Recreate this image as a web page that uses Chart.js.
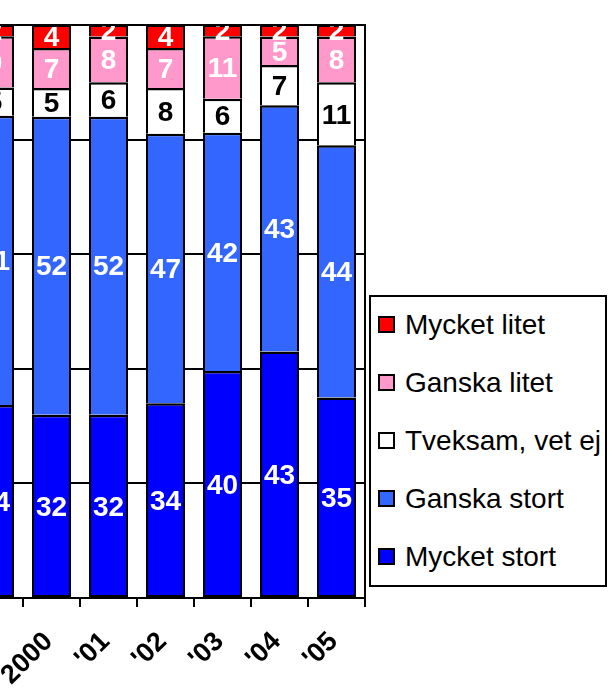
<!DOCTYPE html>
<html>
<head>
<meta charset="utf-8">
<script src="https://cdn.jsdelivr.net/npm/chart.js@4"></script>
<style>
  html, body { margin: 0; padding: 0; background: #fff; overflow: hidden; }
  body { width: 612px; height: 698px; position: relative; font-family: Arial, "Liberation Sans", sans-serif; }
  #wrap { position: absolute; left: -100px; top: 0; width: 712px; height: 698px; }
  #legend { position: absolute; left: 369px; top: 295px; width: 234px; height: 288px; border: 2px solid #000; background: #fff; }
  .item { position: absolute; left: 0; height: 30px; line-height: 30px; font-size: 28px; color: #000; white-space: nowrap; }
  .item .box { position: absolute; left: 7px; top: 6px; width: 17px; height: 17px; box-sizing: border-box; border: 2px solid #000; }
  .item span { position: absolute; left: 34px; top: 0; }
</style>
</head>
<body>
<div id="wrap"><canvas id="chart" width="712" height="698"></canvas></div>
<div id="legend"></div>
<script>
const $ = id => document.getElementById(id);

// data (first year is cut off at the left edge of the picture)
const categories = ['1999', '2000', "'01", "'02", "'03", "'04", "'05"];
const mycketStort = [34, 32, 32, 34, 40, 43, 35];
const ganskaStort = [51, 52, 52, 47, 42, 43, 44];
const tveksam = [5, 5, 6, 8, 6, 7, 11];
const ganskaLitet = [9, 7, 8, 7, 11, 5, 8];
const mycketLitet = [2, 4, 2, 4, 2, 2, 2];
const yTicks = [0, 20, 40, 60, 80, 100];

const seriesNames = ['Mycket stort', 'Ganska stort', 'Tveksam, vet ej', 'Ganska litet', 'Mycket litet'];
const seriesValues = [mycketStort, ganskaStort, tveksam, ganskaLitet, mycketLitet];
const seriesColors = ['#0000FF', '#3366FF', '#FFFFFF', '#FF99CC', '#FF0000'];
const labelColors = ['#fff', '#fff', '#000', '#fff', '#fff'];

// 100% stacked: share of each year's total
const totals = categories.map((c, i) => seriesValues.reduce((s, arr) => s + arr[i], 0));

const datasets = seriesValues.map((arr, k) => ({
  label: seriesNames[k],
  raw: arr,
  labelColor: labelColors[k],
  data: arr.map((v, i) => v / totals[i] * 100),
  backgroundColor: seriesColors[k],
  borderColor: '#000',
  borderWidth: { top: k === seriesValues.length - 1 ? 2 : 2.5, bottom: k === 0 ? 2 : 0, left: 2, right: 2 },
  borderSkipped: false,
  inflateAmount: 0,
  barThickness: 39
}));

// numbers inside the segments, clipped to the plot like the original
const valueLabels = {
  id: 'valueLabels',
  afterDatasetsDraw(chart) {
    const ctx = chart.ctx;
    const a = chart.chartArea;
    ctx.save();
    ctx.beginPath();
    ctx.rect(a.left, a.top + 1, a.right - a.left, a.bottom - a.top);
    ctx.clip();
    ctx.font = 'bold 28px Arial, "Liberation Sans", sans-serif';
    ctx.textAlign = 'center';
    ctx.textBaseline = 'middle';
    chart.data.datasets.forEach((ds, i) => {
      chart.getDatasetMeta(i).data.forEach((bar, j) => {
        ctx.fillStyle = ds.labelColor;
        ctx.fillText(String(ds.raw[j]), bar.x, (bar.y + bar.base) / 2 + 2);
      });
    });
    ctx.restore();
  }
};

Chart.defaults.font.family = 'Arial, "Liberation Sans", sans-serif';
Chart.defaults.color = '#000';

new Chart($('chart').getContext('2d'), {
  type: 'bar',
  data: { labels: categories, datasets },
  options: {
    responsive: false,
    animation: false,
    devicePixelRatio: 1,
    layout: { padding: { left: 66, right: 247, top: 25, bottom: 0 } },
    plugins: { legend: { display: false }, tooltip: { enabled: false } },
    scales: {
      x: {
        stacked: true,
        grid: { offset: true, drawOnChartArea: false, drawTicks: true, tickLength: 9, color: '#000', lineWidth: 2 },
        border: { display: true, color: '#000', width: 2 },
        ticks: { autoSkip: false, maxRotation: 45, minRotation: 45, padding: 19, labelOffset: -3, color: '#000', font: { size: 27, weight: 'bold' } },
        afterFit: s => { s.height = 100; }
      },
      y: {
        stacked: true,
        position: 'right',
        min: 0,
        max: 100,
        afterBuildTicks: s => { s.ticks = yTicks.map(v => ({ value: v })); },
        grid: { color: '#000', lineWidth: 2, drawTicks: false, tickLength: 0 },
        border: { display: true, color: '#000', width: 2 },
        ticks: { display: false },
        afterFit: s => { s.width = 0; }
      }
    }
  },
  plugins: [valueLabels]
});

// legend box, top series first
const legendEl = $('legend');
seriesNames.slice().reverse().forEach((name, n) => {
  const k = seriesNames.length - 1 - n;
  legendEl.innerHTML += `<div class="item" style="top:${13 + n * 58}px">
    <div class="box" style="background:${seriesColors[k]}"></div><span>${name}</span></div>`;
});
</script>
</body>
</html>
